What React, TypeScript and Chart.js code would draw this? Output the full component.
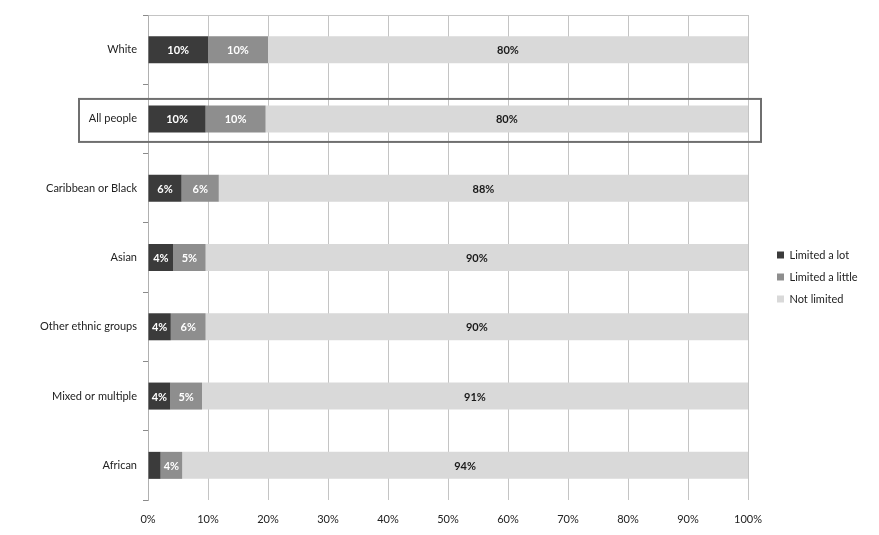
import { useEffect, useRef } from "react"
import { Chart, registerables, Plugin } from "chart.js"

Chart.register(...registerables)

const categories = [
  "White",
  "All people",
  "Caribbean or Black",
  "Asian",
  "Other ethnic groups",
  "Mixed or multiple",
  "African",
]
const limitedALot = [10, 9.6, 5.6, 4.2, 3.8, 3.7, 2.1]
const limitedALittle = [10, 10, 6.2, 5.4, 5.8, 5.3, 3.6]
const notLimited = [80, 80.4, 88.2, 90.4, 90.4, 91, 94.3]
const xTicks = [0, 10, 20, 30, 40, 50, 60, 70, 80, 90, 100]
const highlighted = "All people"

const FONT = "Lato, 'Liberation Sans', Arial, sans-serif"

// etiquetas dentro das barras
const barLabels: Plugin = {
  id: "barLabels",
  afterDatasetsDraw(chart) {
    const ctx = chart.ctx
    ctx.save()
    ctx.font = `bold 11px ${FONT}`
    ctx.textAlign = "center"
    ctx.textBaseline = "middle"
    chart.data.datasets.forEach((ds, di) => {
      const meta = chart.getDatasetMeta(di)
      meta.data.forEach((el: any, i) => {
        const v = ds.data[i] as number
        if (v < 3) return
        const cx = (el.x + el.base) / 2
        ctx.fillStyle = di === 2 ? "#1a1a1a" : "#ffffff"
        ctx.fillText(`${Math.round(v)}%`, cx, el.y + 1)
      })
    })
    ctx.restore()
  },
}

// caixa em volta de "All people"
const highlightBox: Plugin = {
  id: "highlightBox",
  afterDraw(chart) {
    const y = chart.scales.y
    const idx = categories.indexOf(highlighted)
    const cy = y.getPixelForValue(idx)
    const ctx = chart.ctx
    ctx.save()
    ctx.strokeStyle = "#6f6f6f"
    ctx.lineWidth = 2
    ctx.strokeRect(79, cy - 20, chart.chartArea.right + 13 - 79, 43)
    ctx.restore()
  },
}

// largura fixa da legenda e deslocamento para a direita
const legendFix: Plugin = {
  id: "legendFix",
  beforeLayout(chart) {
    const lg: any = chart.legend
    if (lg && !lg._fixed) {
      const fit = lg.fit
      lg.fit = function () {
        fit.call(this)
        this.width = 131
      }
      lg._fixed = true
    }
  },
  afterLayout(chart) {
    const lg: any = chart.legend
    if (lg) {
      lg.left += 18
      lg.top += 2
      lg.bottom += 2
    }
  },
}

export default function App() {
  const chartRef = useRef<HTMLCanvasElement>(null)
  const chartInstance = useRef<Chart | null>(null)

  useEffect(() => {
    if (!chartRef.current) return
    if (chartInstance.current) chartInstance.current.destroy()

    const ctx = chartRef.current.getContext("2d")
    if (!ctx) return

    chartInstance.current = new Chart(ctx, {
      type: "bar",
      data: {
        labels: categories,
        datasets: [
          { label: "Limited a lot", data: limitedALot, backgroundColor: "#3b3b3b" },
          { label: "Limited a little", data: limitedALittle, backgroundColor: "#8e8e8e" },
          { label: "Not limited", data: notLimited, backgroundColor: "#d9d9d9" },
        ],
      },
      options: {
        indexAxis: "y",
        animation: false,
        responsive: true,
        maintainAspectRatio: false,
        datasets: {
          bar: { barPercentage: 0.39, categoryPercentage: 1 },
        },
        layout: { padding: { top: 15, right: 0, left: 0, bottom: 0 } },
        plugins: {
          legend: {
            position: "right",
            labels: {
              boxWidth: 7,
              boxHeight: 7,
              padding: 11,
              color: "#222",
              font: { family: FONT, size: 11 },
            },
          },
          tooltip: { enabled: false },
        },
        scales: {
          x: {
            stacked: true,
            min: 0,
            max: 100,
            afterBuildTicks: (scale) => {
              scale.ticks = xTicks.map((v) => ({ value: v }))
            },
            afterFit: (scale) => {
              scale.height = 35
            },
            border: { display: false },
            grid: { color: "#c4c4c4", drawTicks: false },
            ticks: {
              padding: 13,
              color: "#222",
              font: { family: FONT, size: 11 },
              callback: (v) => `${v}%`,
            },
          },
          y: {
            stacked: true,
            afterFit: (scale) => {
              scale.width = 148
            },
            border: { color: "#b0b0b0" },
            grid: {
              offset: true,
              color: (c) => (c.index === 0 ? "#c4c4c4" : "rgba(0,0,0,0)"),
              tickColor: "#8a8a8a",
              tickLength: 5,
            },
            ticks: {
              padding: 6,
              color: "#222",
              font: { family: FONT, size: 11 },
            },
          },
        },
      },
      plugins: [barLabels, highlightBox, legendFix],
    })

    return () => {
      if (chartInstance.current) {
        chartInstance.current.destroy()
        chartInstance.current = null
      }
    }
  }, [])

  return (
    <div style={{ position: "absolute", left: 0, top: 0, width: 879, height: 535, background: "#fff" }}>
      <canvas ref={chartRef} />
    </div>
  )
}
